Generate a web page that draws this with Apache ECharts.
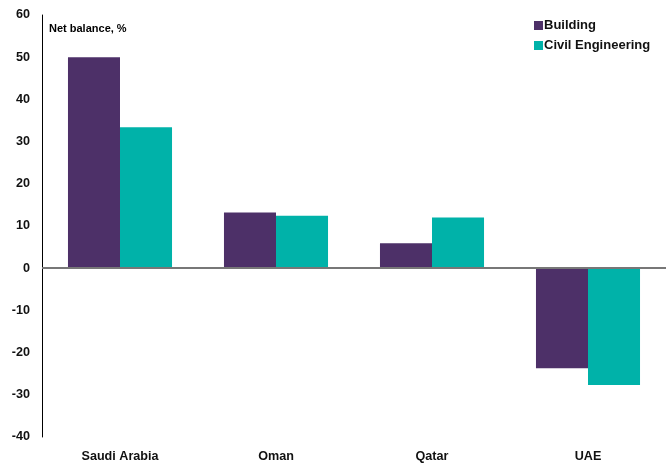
<!DOCTYPE html>
<html><head><meta charset="utf-8">
<script src="https://cdn.jsdelivr.net/npm/echarts@6/dist/echarts.min.js"></script>
<style>html,body{margin:0;padding:0;background:#fff}#c{width:672px;height:467px}</style>
</head><body><div id="c"></div>
<script>
const categories = ['Saudi Arabia', 'Oman', 'Qatar', 'UAE'];
const building = [50, 13.2, 5.9, -23.7];
const civil = [33.4, 12.4, 12.0, -27.7];
const seriesNames = ['Building', 'Civil Engineering'];
const yTitle = 'Net balance, %';

const chart = echarts.init(document.getElementById('c'));
const font = 'Liberation Sans, Arial, sans-serif';
chart.setOption({
  animation: false,
  textStyle: { fontFamily: font },
  grid: { left: 42, right: 6, top: 15, bottom: 30, containLabel: false },
  legend: {
    orient: 'vertical', left: 529, top: 14, itemGap: 7,
    itemWidth: 9, itemHeight: 9, icon: 'rect',
    textStyle: { fontFamily: font, fontWeight: 'bold', fontSize: 13, color: '#111', padding: [0,0,0,-4] },
    data: seriesNames
  },
  graphic: [{ type: 'text', left: 49, top: 23, style: { text: yTitle, font: 'bold 11px ' + font, fill: '#000' } }],
  xAxis: {
    type: 'category', data: categories,
    axisLine: { show: false }, axisTick: { show: false },
    axisLabel: { fontWeight: 'bold', fontSize: 12.6, color: '#111', margin: 13 }
  },
  yAxis: {
    type: 'value', min: -40, max: 60, interval: 10,
    axisLine: { show: true, lineStyle: { color: '#000', width: 1 } },
    axisTick: { show: false }, splitLine: { show: false },
    axisLabel: { fontWeight: 'bold', fontSize: 12.6, color: '#111', margin: 12 }
  },
  series: [
    { name: seriesNames[0], type: 'bar', data: building, barGap: '0%', barCategoryGap: '33.3%',
      itemStyle: { color: '#4D3068' },
      markLine: { silent: true, symbol: 'none', label: { show: false },
        lineStyle: { color: '#777', width: 2, type: 'solid' }, data: [{ yAxis: 0 }] } },
    { name: seriesNames[1], type: 'bar', data: civil, barGap: '0%', barCategoryGap: '33.3%',
      itemStyle: { color: '#00B2A9' } }
  ]
});
</script></body></html>
